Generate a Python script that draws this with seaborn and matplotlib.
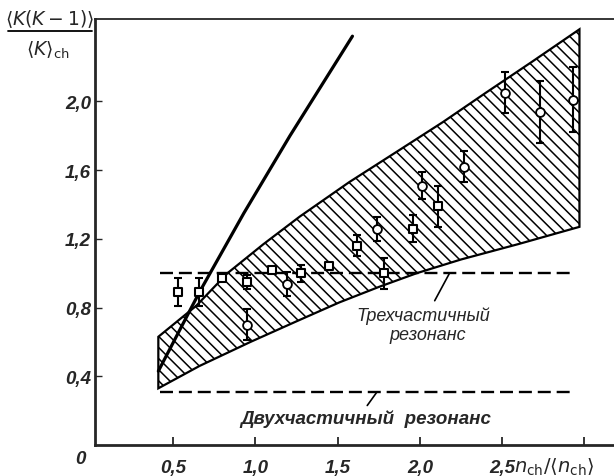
import matplotlib
matplotlib.use("Agg")
import matplotlib.pyplot as plt
import seaborn as sns
import pandas as pd
import numpy as np

# ---- data ----
xticks = [0.5, 1.0, 1.5, 2.0, 2.5, 3.0]
xtick_labels = ["0,5", "1,0", "1,5", "2,0", "2,5", ""]
yticks = [0.4, 0.8, 1.2, 1.6, 2.0]
ytick_labels = ["0,4", "0,8", "1,2", "1,6", "2,0"]

# hatched band (upper and lower boundaries)
band_upper_x = [0.41, 0.64, 0.83, 1.05, 1.27, 1.57, 1.88, 2.14, 2.40, 2.68, 2.97]
band_upper_y = [0.63, 0.81, 1.00, 1.17, 1.33, 1.53, 1.72, 1.88, 2.05, 2.23, 2.42]
band_lower_x = [0.41, 0.66, 0.97, 1.25, 1.51, 1.75, 1.98, 2.25, 2.60, 2.97]
band_lower_y = [0.33, 0.46, 0.60, 0.72, 0.83, 0.92, 1.00, 1.08, 1.17, 1.27]

# steep solid curve
steep_x = [0.41, 0.66, 0.93, 1.21, 1.59]
steep_y = [0.43, 0.89, 1.35, 1.80, 2.38]

# resonance levels
three_level = 1.00
two_level = 0.31
level_xmin, level_xmax = 0.42, 2.93

# squares
sq_x = [0.53, 0.66, 0.80, 0.95, 1.10, 1.28, 1.45, 1.62, 1.78, 1.96, 2.11]
sq_y = [0.89, 0.89, 0.97, 0.95, 1.02, 1.00, 1.04, 1.16, 1.00, 1.26, 1.39]
sq_e = [0.08, 0.08, 0.00, 0.04, 0.00, 0.05, 0.02, 0.06, 0.09, 0.08, 0.12]
# circles
ci_x = [0.95, 1.19, 1.74, 2.01, 2.27, 2.52, 2.73, 2.93]
ci_y = [0.70, 0.94, 1.26, 1.51, 1.62, 2.05, 1.94, 2.01]
ci_e = [0.09, 0.07, 0.07, 0.08, 0.09, 0.12, 0.18, 0.19]

label_three = ["Трехчастичный", "резонанс"]
label_two = "Двухчастичный  резонанс"

# ---- style ----
sns.set_style("ticks")
plt.rcParams["font.family"] = ["Liberation Sans", "DejaVu Sans"]
plt.rcParams["mathtext.fontset"] = "dejavusans"
plt.rcParams["mathtext.default"] = "it"
plt.rcParams["hatch.linewidth"] = 1.1

fig = plt.figure(figsize=(6.14, 4.77), dpi=100)
ax = fig.add_axes([95 / 614, 31 / 477, 1 - 95 / 614, 426 / 477])
ax.set_xlim(0.025, 3.18)
ax.set_ylim(0, 2.48)

# band
poly_x = band_upper_x + band_lower_x[::-1]
poly_y = band_upper_y + band_lower_y[::-1]
ax.fill(poly_x, poly_y, facecolor="white", edgecolor="black", hatch="\\\\\\",
        linewidth=1.6, zorder=1)

# steep curve
sns.lineplot(x=steep_x, y=steep_y, ax=ax, color="black", linewidth=2.3,
             sort=False, zorder=3)

# dashed resonance levels
for lev in (three_level, two_level):
    ax.plot([level_xmin, level_xmax], [lev, lev], color="black", linewidth=1.7,
            dashes=(5.5, 2.5), zorder=2)

# error bars and markers
ax.errorbar(sq_x, sq_y, yerr=sq_e, fmt="none", ecolor="black", elinewidth=1.5,
            capsize=3, capthick=1.5, zorder=4)
ax.errorbar(ci_x, ci_y, yerr=ci_e, fmt="none", ecolor="black", elinewidth=1.5,
            capsize=3, capthick=1.5, zorder=4)
df_sq = pd.DataFrame({"x": sq_x, "y": sq_y})
df_ci = pd.DataFrame({"x": ci_x, "y": ci_y})
sns.scatterplot(data=df_sq, x="x", y="y", ax=ax, marker="s", s=36,
                facecolor="white", edgecolor="black", linewidth=1.5, zorder=5)
sns.scatterplot(data=df_ci, x="x", y="y", ax=ax, marker="o", s=40,
                facecolor="white", edgecolor="black", linewidth=1.3, zorder=5)

# pointers
ax.plot([2.09, 2.18], [0.84, 1.00], color="black", linewidth=1.2, zorder=2)
ax.plot([1.68, 1.74], [0.23, 0.31], color="black", linewidth=1.2, zorder=2)

# annotation labels
ax.text(2.02, 0.755, label_three[0], ha="center", va="center", fontsize=13,
        style="italic")
ax.text(2.05, 0.645, label_three[1], ha="center", va="center", fontsize=13,
        style="italic")
ax.text(1.67, 0.155, label_two, ha="center", va="center", fontsize=13.5,
        style="italic", fontweight="bold")

# axes styling
ax.spines["right"].set_visible(False)
ax.spines["left"].set_linewidth(2.0)
ax.spines["bottom"].set_linewidth(2.0)
ax.spines["top"].set_linewidth(1.3)

ax.set_xticks(xticks)
ax.set_xticklabels(xtick_labels)
ax.set_yticks(yticks)
ax.set_yticklabels(ytick_labels)
ax.tick_params(axis="x", direction="in", length=6, width=1.3, pad=10,
               labelsize=13.5)
ax.tick_params(axis="y", direction="in", length=5, width=1.0, pad=3,
               labelsize=13.5)
for lab in ax.get_xticklabels() + ax.get_yticklabels():
    lab.set_fontstyle("italic")
    lab.set_fontweight("bold")
ax.set_xlabel("")
ax.set_ylabel("")

# origin label
fig.text(80 / 614, 1 - 460 / 477, "0", ha="center", va="center", fontsize=13.5,
         style="italic", fontweight="bold")

# x axis label next to 2,5
fig.text(514 / 614, 1 - 467 / 477, r"$n_{\mathrm{ch}}/\langle n_{\mathrm{ch}}\rangle$",
         ha="left", va="center", fontsize=14)

# y axis label as a fraction
fig.text(50 / 614, 1 - 19 / 477, r"$\langle K(K-1)\rangle$", ha="center",
         va="center", fontsize=13.5)
fig.add_artist(plt.Line2D([8 / 614, 92 / 614], [1 - 32 / 477, 1 - 32 / 477],
                          color="black", linewidth=1.3, transform=fig.transFigure))
fig.text(48 / 614, 1 - 50 / 477, r"$\langle K\rangle_{\mathrm{ch}}$", ha="center",
         va="center", fontsize=13.5)

fig.savefig("out.png", dpi=100)
